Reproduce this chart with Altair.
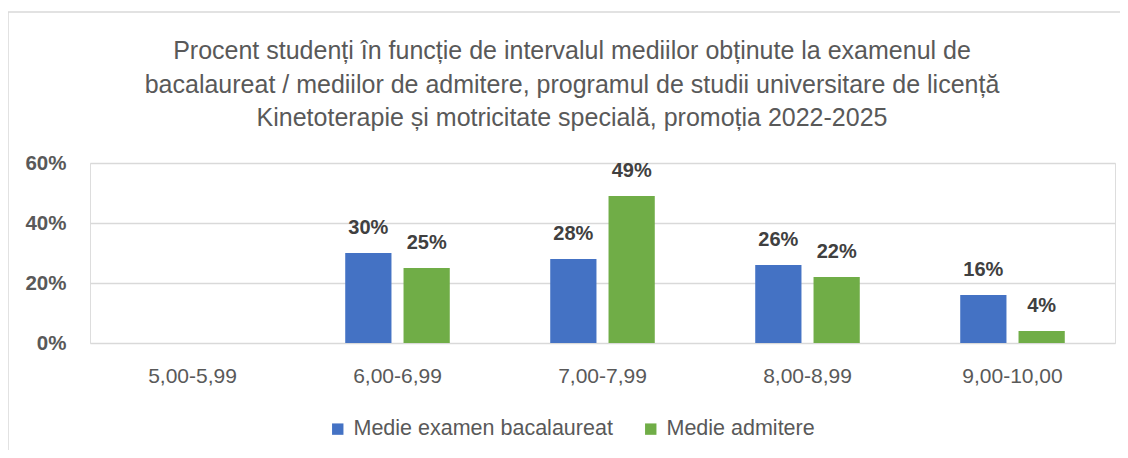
import altair as alt
import pandas as pd

categories = ["5,00-5,99", "6,00-6,99", "7,00-7,99", "8,00-8,99", "9,00-10,00"]
series = ["Medie examen bacalaureat", "Medie admitere"]
bac_values = [0, 30, 28, 26, 16]
adm_values = [0, 25, 49, 22, 4]
colors = ["#4472C4", "#70AD47"]
title_lines = [
    "Procent studenți în funcție de intervalul mediilor obținute la examenul de",
    "bacalaureat / mediilor de admitere, programul de studii universitare de licență",
    "Kinetoterapie și motricitate specială, promoția 2022-2025",
]

rows = []
for c, b, a in zip(categories, bac_values, adm_values):
    rows.append({"cat": c, "serie": series[0], "val": b, "lbl": f"{b}%"})
    rows.append({"cat": c, "serie": series[1], "val": a, "lbl": f"{a}%"})
df = pd.DataFrame(rows)

FONT = "Liberation Sans"
GRAY = "#595959"

base = alt.Chart(df).transform_filter("datum.val > 0").encode(
    x=alt.X("cat:N", sort=categories, title=None,
            scale=alt.Scale(domain=categories, paddingInner=0.49, paddingOuter=0.245),
            axis=alt.Axis(labelAngle=0, ticks=False, domain=False, labelPadding=22,
                          labelFontSize=21, labelColor=GRAY, labelFont=FONT)),
    xOffset=alt.XOffset("serie:N", sort=series,
                        scale=alt.Scale(domain=series, paddingInner=0.207, paddingOuter=0)),
)

bars = base.mark_bar().encode(
    y=alt.Y("val:Q", title=None,
            scale=alt.Scale(domain=[0, 60], nice=False),
            axis=alt.Axis(values=[0, 20, 40, 60], labelExpr="datum.value + '%'",
                          ticks=False, domain=False, labelPadding=24,
                          labelFontSize=20.5, labelFontWeight="bold", labelColor=GRAY,
                          labelFont=FONT, gridColor="#D9D9D9", gridWidth=1.5)),
    color=alt.Color("serie:N", sort=series,
                    scale=alt.Scale(domain=series, range=colors),
                    legend=alt.Legend(title=None, orient="none", direction="horizontal",
                                      legendX=237, legendY=255, symbolType="square",
                                      symbolSize=130, symbolStrokeWidth=0,
                                      labelFontSize=21.5, labelColor=GRAY, labelFont=FONT,
                                      labelLimit=0, columnPadding=27, labelOffset=5)),
)

labels = base.mark_text(baseline="alphabetic", dy=-19, fontSize=20, fontWeight="bold",
                        color="#404040", font=FONT).encode(
    y=alt.Y("val:Q"),
    text="lbl:N",
)

title = alt.Chart(pd.DataFrame({"k": [0]})).mark_text(
    lineBreak="\n", lineHeight=33.5, baseline="alphabetic", align="center",
    fontSize=25, color=GRAY, font=FONT,
).encode(x=alt.value(482), y=alt.value(-104), text=alt.value("\n".join(title_lines)))

frame = alt.Chart(pd.DataFrame({"k": [0]})).mark_rule(color="#D9D9D9", strokeWidth=1.5).encode(
    x=alt.value(-82), x2=alt.value(-82), y=alt.value(-151), y2=alt.value(290)
)
frame_top = alt.Chart(pd.DataFrame({"k": [0]})).mark_rule(color="#D9D9D9", strokeWidth=1.5).encode(
    x=alt.value(-82), x2=alt.value(1040), y=alt.value(-151), y2=alt.value(-151)
)

chart = alt.layer(frame, frame_top, title, bars, labels).properties(
    width=1025, height=180,
    autosize=alt.AutoSizeParams(type="none"),
    padding={"left": 82, "top": 155, "right": 5, "bottom": 107},
).configure_view(stroke=None).configure(background="white")

chart.save("out.html", embed_options={"renderer": "svg", "actions": False})
